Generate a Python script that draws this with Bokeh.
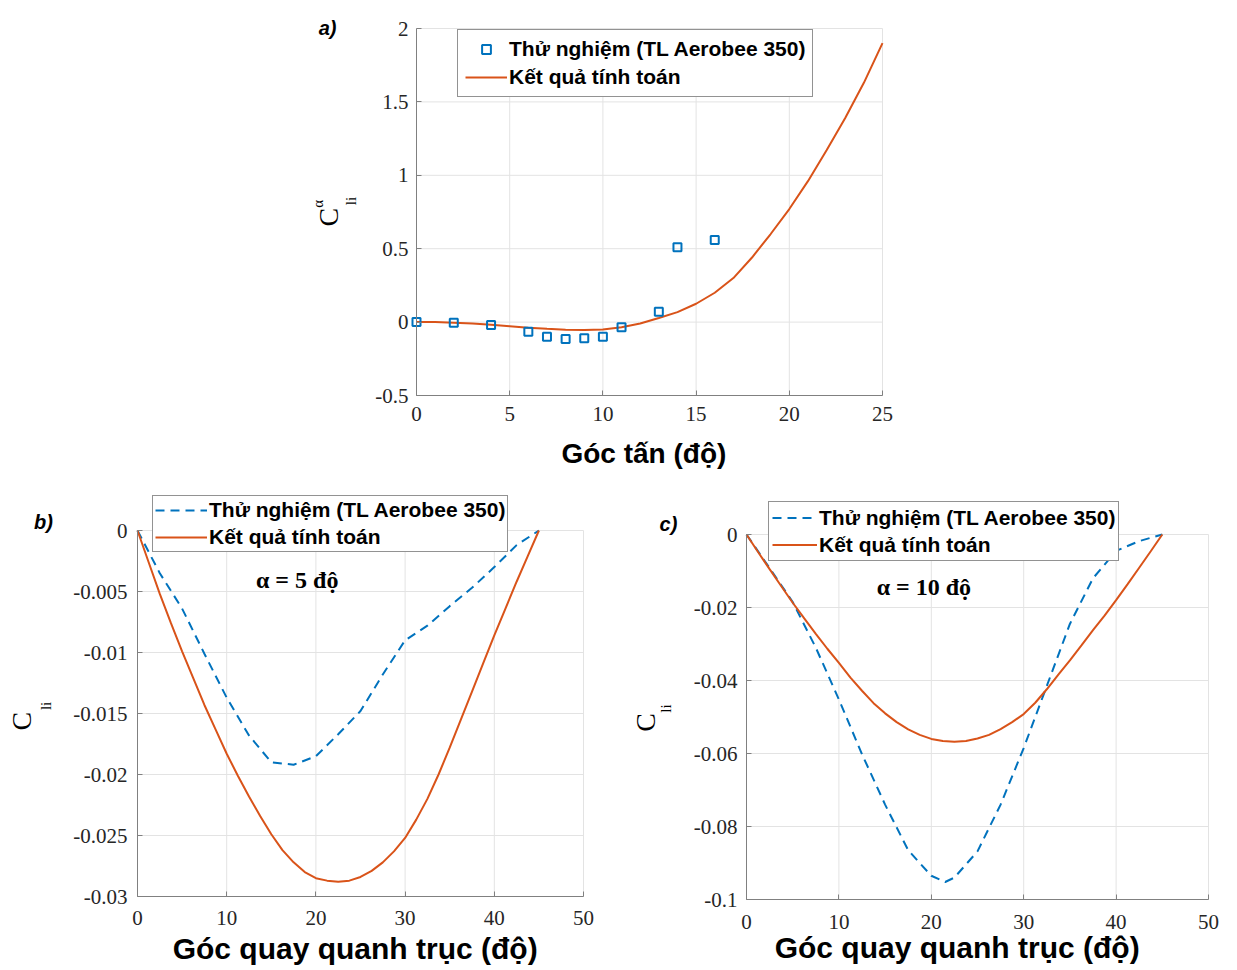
from math import pi

from bokeh.plotting import figure
from bokeh.models import (Range1d, FixedTicker, Legend, LegendItem, Label,
                          NumeralTickFormatter, LinearAxis)
from bokeh.layouts import column, row
from bokeh.embed import file_html
from bokeh.resources import INLINE

# ---- data -------------------------------------------------------------
# (a) coefficient vs angle of attack
a_exp_x = [0, 2, 4, 6, 7, 8, 9, 10, 11, 13, 14, 16]
a_exp_y = [0.0, -0.005, -0.02, -0.065, -0.10, -0.115, -0.11, -0.10, -0.035, 0.07, 0.51, 0.56]
a_calc_x = list(range(0, 26))
a_calc_y = [0.0, 0.0, -0.004, -0.01, -0.018, -0.028, -0.038, -0.046, -0.052, -0.054,
            -0.05, -0.035, -0.01, 0.028, 0.068, 0.125, 0.2, 0.3, 0.44, 0.6,
            0.77, 0.96, 1.17, 1.39, 1.63, 1.9]

# (b) roll angle, alpha = 5 deg
b_exp_x = [0, 2.5, 5, 7.5, 10, 12.5, 15, 17.5, 20, 22.5, 25, 27.5, 30, 32.5, 35, 37.5, 40, 42.5, 45]
b_exp_y = [0.0, -0.0035, -0.0064, -0.0101, -0.0137, -0.0168, -0.0190, -0.0192, -0.0185, -0.0167,
           -0.0148, -0.0118, -0.0090, -0.0078, -0.0062, -0.0047, -0.0030, -0.0012, 0.0]
b_calc_x = [0, 1.25, 2.5, 3.75, 5, 6.25, 7.5, 8.75, 10, 11.25, 12.5, 13.75, 15, 16.25, 17.5,
            18.75, 20, 21.25, 22.5, 23.75, 25, 26.25, 27.5, 28.75, 30, 31.25, 32.5, 33.75,
            35, 36.25, 37.5, 38.75, 40, 41.25, 42.5, 43.75, 45]
b_calc_y = [0.0, -0.0026, -0.0052, -0.0076, -0.0099, -0.0121, -0.0143, -0.0163, -0.0183,
            -0.0201, -0.0218, -0.0234, -0.0249, -0.0262, -0.0272, -0.0280, -0.0285, -0.0287,
            -0.0288, -0.0287, -0.0284, -0.0279, -0.0272, -0.0263, -0.0252, -0.0237, -0.0220,
            -0.0200, -0.0178, -0.0155, -0.0132, -0.0109, -0.0086, -0.0064, -0.0042, -0.0021, 0.0]

# (c) roll angle, alpha = 10 deg
c_exp_x = [0, 2.5, 5, 7.5, 10, 12.5, 15, 17.5, 20, 21.5, 22.5, 25, 27.5, 30, 32.5, 35, 37.5, 40, 42.5, 45]
c_exp_y = [0.0, -0.0092, -0.0185, -0.0310, -0.0452, -0.0602, -0.0740, -0.0865, -0.0935, -0.0952,
           -0.0940, -0.0868, -0.0740, -0.0585, -0.0415, -0.0245, -0.0120, -0.0045, -0.0018, 0.0]
c_calc_x = b_calc_x
c_calc_y = [0.0, -0.0048, -0.0095, -0.0141, -0.0187, -0.0230, -0.0272, -0.0313, -0.0352,
            -0.0392, -0.0428, -0.0462, -0.0490, -0.0514, -0.0534, -0.0549, -0.0560, -0.0566,
            -0.0568, -0.0566, -0.0559, -0.0549, -0.0533, -0.0514, -0.0492, -0.0461, -0.0424,
            -0.0384, -0.0345, -0.0304, -0.0262, -0.0222, -0.0180, -0.0136, -0.0091, -0.0046, 0.0]

a_xticks = [0, 5, 10, 15, 20, 25]
a_yticks = [-0.5, 0, 0.5, 1, 1.5, 2]
bc_xticks = [0, 10, 20, 30, 40, 50]
b_yticks = [-0.03, -0.025, -0.02, -0.015, -0.01, -0.005, 0]
c_yticks = [-0.1, -0.08, -0.06, -0.04, -0.02, 0]

LBL_EXP = "Thử nghiệm (TL Aerobee 350)"
LBL_CALC = "Kết quả tính toán"
XLABEL_A = "Góc tấn (độ)"
XLABEL_BC = "Góc quay quanh trục (độ)"

BLUE = "#0072BD"
ORANGE = "#D95319"
AXIS = "#808080"
TXT = "#262626"
GRID = "#e3e3e3"
SANS = "Liberation Sans"
SERIF = "Liberation Serif"


def make_fig(w, h, xlim, ylim, px, py, xticks, yticks, ystandoff, xstandoff):
    """Figure whose frame fills the whole canvas; the data box [xlim x ylim]
    sits at canvas pixels px=(left, right), py=(top, bottom)."""
    sx = (xlim[1] - xlim[0]) / (px[1] - px[0])
    sy = (ylim[1] - ylim[0]) / (py[1] - py[0])
    xr = Range1d(xlim[0] - px[0] * sx, xlim[0] + (w - px[0]) * sx)
    yr = Range1d(ylim[0] - (h - py[1]) * sy, ylim[1] + py[0] * sy)
    p = figure(width=w, height=h, x_range=xr, y_range=yr,
               output_backend="svg", toolbar_location=None,
               x_axis_location=None, y_axis_location=None,
               min_border=0)
    p.outline_line_color = None
    p.background_fill_color = "white"
    p.border_fill_color = "white"
    p.xgrid.visible = False
    p.ygrid.visible = False

    # light grid inside the data box
    p.segment(x0=xticks, y0=[ylim[0]] * len(xticks), x1=xticks, y1=[ylim[1]] * len(xticks),
              line_color=GRID, line_width=1)
    p.segment(x0=[xlim[0]] * len(yticks), y0=yticks, x1=[xlim[1]] * len(yticks), y1=yticks,
              line_color=GRID, line_width=1)

    xa = LinearAxis(fixed_location=ylim[0], bounds=tuple(xlim))
    ya = LinearAxis(fixed_location=xlim[0], bounds=tuple(ylim))
    xa.ticker = FixedTicker(ticks=xticks)
    ya.ticker = FixedTicker(ticks=yticks)
    for ax in (xa, ya):
        ax.formatter = NumeralTickFormatter(format="0.[000]")
        ax.axis_line_color = AXIS
        ax.axis_line_width = 1
        ax.major_tick_line_color = AXIS
        ax.major_tick_in = 5
        ax.major_tick_out = 0
        ax.minor_tick_line_color = None
        ax.major_label_text_font = SERIF
        ax.major_label_text_font_size = "21px"
        ax.major_label_text_color = TXT
    ya.major_label_standoff = ystandoff
    xa.major_label_standoff = xstandoff
    p.add_layout(xa, "below")
    p.add_layout(ya, "left")
    return p


def text(p, x, y, s, font=SANS, size="20px", style="normal", angle=0.0):
    p.add_layout(Label(x=x, y=y, text=s, text_font=font, text_font_size=size,
                       text_font_style=style, text_color="black", angle=angle,
                       text_align="center", text_baseline="middle"))


def legend(p, items, loc, padding, row_h, spacing, glyph_w):
    lg = Legend(items=items, location=loc, padding=padding, margin=0, spacing=spacing,
                label_height=row_h, glyph_height=row_h, glyph_width=glyph_w,
                label_standoff=2, border_line_color=TXT, border_line_width=1,
                background_fill_color="white", background_fill_alpha=1.0,
                label_text_font=SANS, label_text_font_style="bold",
                label_text_font_size="21px", label_text_color="black")
    p.add_layout(lg)


# ---- (a) --------------------------------------------------------------
pa = make_fig(1237, 470, (0, 25), (-0.5, 2), (416, 882), (28, 395),
              a_xticks, a_yticks, 8, 11)
r_calc_a = pa.line(a_calc_x, a_calc_y, line_color=ORANGE, line_width=2)
r_exp_a = pa.scatter(a_exp_x, a_exp_y, marker="square", size=8, fill_color=None,
                     line_color=BLUE, line_width=2)
legend(pa, [LegendItem(label=LBL_EXP, renderers=[r_exp_a]),
            LegendItem(label=LBL_CALC, renderers=[r_calc_a])],
       (457, 373), 7, 22, 4, 42)
text(pa, 12.2, -0.893, XLABEL_A, size="28px", style="bold")
text(pa, -4.77, 2.004, "a)", size="20px", style="bold italic")
text(pa, -4.72, 0.715, "C", font=SERIF, size="28px", angle=pi / 2)
text(pa, -3.54, 0.825, "li", font=SERIF, size="15px", angle=pi / 2)
text(pa, -5.26, 0.805, "α", font=SERIF, size="15px", angle=pi / 2)

# ---- (b) --------------------------------------------------------------
pb = make_fig(620, 500, (0, 50), (-0.03, 0), (137, 583), (60, 426),
              bc_xticks, b_yticks, 10, 14)
r_exp_b = pb.line(b_exp_x, b_exp_y, line_color=BLUE, line_width=2, line_dash="9 6")
r_calc_b = pb.line(b_calc_x, b_calc_y, line_color=ORANGE, line_width=2)
legend(pb, [LegendItem(label=LBL_EXP, renderers=[r_exp_b]),
            LegendItem(label=LBL_CALC, renderers=[r_calc_b])],
       (152, 418), 2, 24, 3, 52)
text(pb, 17.9, -0.00403, "α = 5 độ", font=SERIF, size="24px", style="bold")
text(pb, 24.4, -0.03427, XLABEL_BC, size="30px", style="bold")
text(pb, -10.54, 0.00066, "b)", size="20px", style="bold italic")
text(pb, -13.0, -0.01562, "C", font=SERIF, size="28px", angle=pi / 2)
text(pb, -10.31, -0.01438, "li", font=SERIF, size="15px", angle=pi / 2)

# ---- (c) --------------------------------------------------------------
pc = make_fig(617, 500, (0, 50), (-0.1, 0), (126, 588), (64, 429),
              bc_xticks, c_yticks, 9, 15)
r_exp_c = pc.line(c_exp_x, c_exp_y, line_color=BLUE, line_width=2, line_dash="9 6")
r_calc_c = pc.line(c_calc_x, c_calc_y, line_color=ORANGE, line_width=2)
legend(pc, [LegendItem(label=LBL_EXP, renderers=[r_exp_c]),
            LegendItem(label=LBL_CALC, renderers=[r_calc_c])],
       (148, 409), 3, 25, 2, 45)
text(pc, 19.2, -0.01425, "α = 10 độ", font=SERIF, size="24px", style="bold")
text(pc, 22.8, -0.11315, XLABEL_BC, size="30px", style="bold")
text(pc, -8.44, 0.0030, "c)", size="20px", style="bold italic")
text(pc, -10.93, -0.0515, "C", font=SERIF, size="28px", angle=pi / 2)
text(pc, -8.66, -0.0477, "li", font=SERIF, size="15px", angle=pi / 2)

page = column(pa, row(pb, pc))
open("out.html", "w").write(file_html(page, INLINE))
